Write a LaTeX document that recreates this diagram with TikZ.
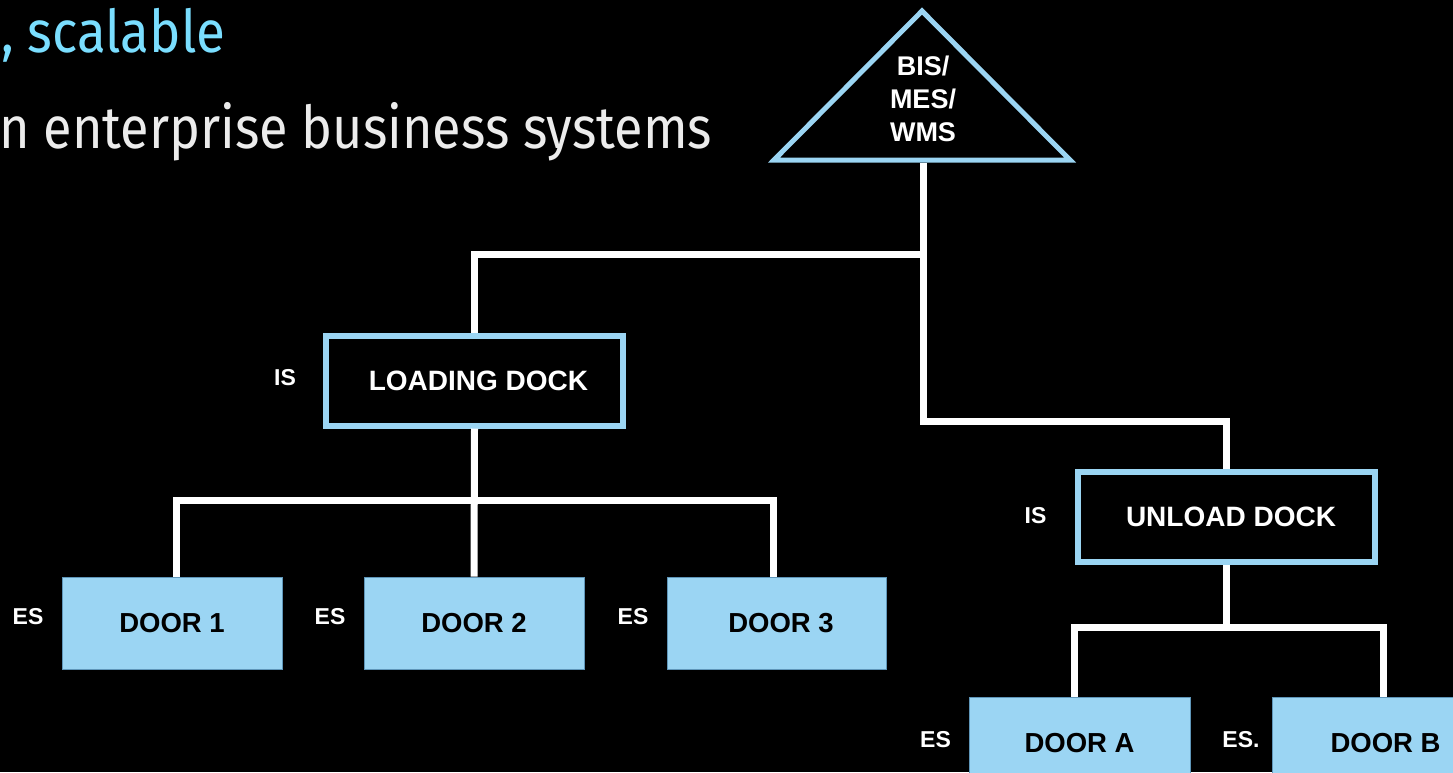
\documentclass[tikz,border=0pt]{standalone}
\usepackage{fontspec}
\setmainfont{Liberation Sans}
\newfontfamily\fira{Fira Sans}
\usepackage{graphicx}
\definecolor{lb}{RGB}{155,213,243}
\definecolor{lbd}{RGB}{95,150,185}
\definecolor{cy}{RGB}{122,222,255}
\definecolor{wt}{RGB}{236,236,236}
\begin{document}
\begin{tikzpicture}[x=1pt,y=-1pt,
  conn/.style={draw=white, line width=7pt, line join=miter},
  dockbox/.style={draw=lb, line width=6pt, fill=black, minimum width=297pt, minimum height=90pt, inner sep=0pt, font=\fontsize{28}{30}\selectfont\bfseries, text=white},
  doorbox/.style={draw=lbd, line width=1pt, fill=lb, minimum width=220pt, minimum height=92pt, inner sep=0pt, font=\fontsize{27.5}{30}\selectfont\bfseries, text=black},
  tag/.style={font=\fontsize{23}{25}\selectfont\bfseries, text=white, inner sep=0pt},
  headline/.style={anchor=base west, inner sep=0pt, font=\fira\fontsize{59}{60}\selectfont},
]
\fill[black] (0,0) rectangle (1453,772);
\useasboundingbox (0,0) rectangle (1453,772);
\clip (0,0) rectangle (1453,772);

% headline text
\node[headline, text=cy] (h1) at (1,52) {\resizebox{224pt}{\height}{, scalable}};
\node[headline, text=wt] (h2) at (-1,148) {\resizebox{713pt}{\height}{n enterprise business systems}};

% triangle
\draw[draw=lb, fill=black, line width=5pt, line join=miter] (922,11) -- (1070,160) -- (774,160) -- cycle;
\node[align=center, inner sep=0pt, text=white, font=\fontsize{27}{33}\selectfont\bfseries] (top) at (923,99) {BIS/\\MES/\\WMS};
\coordinate (tribase) at (923,162.5);

% docks
\node[dockbox] (ld) at (474.5,380.5) {\hspace*{8pt}LOADING DOCK};
\node[dockbox] (ud) at (1226,517) {\hspace*{10pt}UNLOAD DOCK};

% doors
\node[doorbox] (d1) at (172,623) {DOOR 1};
\node[doorbox] (d2) at (474,623) {DOOR 2};
\node[doorbox, minimum width=219pt] (d3) at (777,623) {\hspace*{8pt}DOOR 3};
\node[doorbox, minimum width=221pt] (dA) at (1079.5,743.3) {DOOR A};
\node[doorbox] (dB) at (1382,743.3) {\hspace*{7pt}DOOR B};

% tags
\node[tag] (isl) at (285,378) {IS};
\node[tag] (isu) at (1035.5,515.5) {IS};
\node[tag] (es1) at (28,616.5) {ES};
\node[tag] (es2) at (330,616.5) {ES};
\node[tag] (es3) at (633,616.5) {ES};
\node[tag] (esA) at (935.5,740) {ES};
\node[tag] (esB) at (1241,740) {ES.};

% connectors
\coordinate (jA) at (923,254.5);
\coordinate (jB) at (923,421.7);
\coordinate (jC) at (474,500);
\coordinate (jD) at (1226,627.5);
\draw[conn] (tribase) -- (jB) -| (ud.north);
\draw[conn] (jA) -| (ld.north);
\draw[conn] (ld.south) -- (d2.north);
\draw[conn] ([xshift=4pt]d1.north) |- ([xshift=-4pt]d3.north |- jC) -- ([xshift=-4pt]d3.north);
\draw[conn] (ud.south) -- (jD);
\draw[conn] ([xshift=-5.5pt]dA.north) |- ([xshift=1.5pt]dB.north |- jD) -- ([xshift=1.5pt]dB.north);
\end{tikzpicture}
\end{document}
